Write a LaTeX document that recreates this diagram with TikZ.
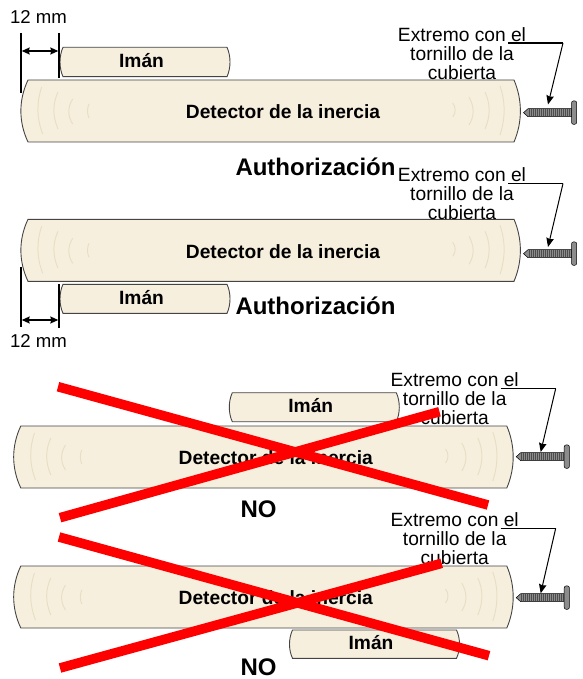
\documentclass[tikz,border=0pt]{standalone}
\usepackage{fontspec}
\setmainfont{Liberation Sans}
\usetikzlibrary{arrows.meta}
\definecolor{wood}{HTML}{F7EFDE}
\definecolor{grain}{HTML}{E8DFC3}
\definecolor{edge}{HTML}{444444}
\definecolor{screwc}{HTML}{8C8C8C}
\tikzset{x=1pt,y=-1pt,
 woodbody/.style={fill=wood,draw=edge,line width=0.9pt},
 grainline/.style={draw=grain,line width=1pt},
 lbl/.style={inner sep=0pt,font=\fontsize{19.2}{19}\selectfont\bfseries},
 callout/.style={inner sep=0pt,align=center,font=\fontsize{19.2}{19}\selectfont},
 dimtxt/.style={inner sep=0pt,font=\fontsize{18.6}{19}\selectfont},
 big/.style={inner sep=0pt,font=\fontsize{24}{24}\selectfont\bfseries},
 dimline/.style={draw=black,line width=1.5pt},
 dimarrow/.style={draw=black,line width=1.3pt,{Stealth[length=8pt,width=7pt,inset=1pt]}-{Stealth[length=8pt,width=7pt,inset=1pt]}},
 calloutrule/.style={draw=black,line width=1.3pt},
 calloutline/.style={draw=black,line width=1pt,-{Stealth[length=9pt,width=7.5pt,inset=1pt]}},
 cross/.style={draw=red,line width=9.6pt}}
% #1 name; #2,#3 shift of the bar; #4 dx of screw and callout; #5 dy of screw; #6 dy of callout; #7 y of arrow tip
\newcommand{\detectorbar}[7]{%
 \begin{scope}[shift={(#2,#3)}]
  \draw[woodbody] (28,80) -- (514,80) .. controls (522.5,100) and (522.5,122) .. (514,142) -- (28,142) .. controls (18.5,122) and (18.5,100) .. (28,80) -- cycle;
  \draw[grainline] (41.7,87) .. controls (36.5,102) and (36.5,118) .. (42.7,134);
  \draw[grainline] (58,92) .. controls (52.5,104) and (52.5,116) .. (58,129);
  \draw[grainline] (72.7,99) .. controls (67.5,107) and (67.5,116) .. (72.7,124);
  \draw[grainline] (89,104) .. controls (87,108) and (87,114) .. (89,118);
  \draw[grainline] (500,86) .. controls (505.5,102) and (505.5,118) .. (500,135);
  \draw[grainline] (485,92) .. controls (490.5,104) and (490.5,116) .. (485,129);
  \draw[grainline] (469,97) .. controls (474.5,107) and (474.5,116) .. (469,125);
  \draw[grainline] (452.7,103) .. controls (456,107) and (456,113) .. (452.7,117);
  \node[lbl] (#1text) at (283,112) {Detector de la inercia};
 \end{scope}
 \begin{scope}[shift={(#4,#5)}]
  \fill[screwc,draw=black,line width=0.5pt] (523.5,112.7) -- (528,108.7) -- (572,108.7) -- (572,116.7) -- (528,116.7) -- cycle;
  \foreach \sx in {529,531,...,571} \draw[black!70,line width=0.6pt] (\sx,109.2) -- (\sx,116.2);
  \draw[fill=screwc,draw=black,line width=0.5pt,rounded corners=2pt] (571.5,100.9) rectangle (576.7,124.3);
 \end{scope}
 \begin{scope}[shift={(#4,#6)}]
  \node[callout] (#1call) at (462,53.5) {Extremo con el\\tornillo de la\\cubierta};
  \coordinate (#1bend) at (563,43);
  \coordinate (#1start) at (508,43);
 \end{scope}
 \coordinate (#1tip) at (548+#4,#7);
 \draw[calloutrule] (#1start) -- (#1bend);
 \draw[calloutline] (#1bend) -- (#1tip);}
% #1 name; #2 left bulge x; #3 top y; #4 bottom y
\newcommand{\iman}[4]{%
 \draw[woodbody] (#2+3,#3) -- (#2+167,#3) .. controls (#2+171,#3*0.7+#4*0.3) and (#2+171,#3*0.3+#4*0.7) .. (#2+167,#4) -- (#2+3,#4) .. controls (#2-1,#3*0.3+#4*0.7) and (#2-1,#3*0.7+#4*0.3) .. (#2+3,#3) -- cycle;
 \node[lbl] (#1) at (#2+81.5,#3*0.5+#4*0.5-1.2) {Imán};}
\begin{document}
\begin{tikzpicture}
\useasboundingbox (0,0) rectangle (582,679);
\fill[white] (0,0) rectangle (582,679);

\detectorbar{da}{0}{0}{0}{0}{0}{104.5}
\iman{ia}{60}{47.3}{76.7}
\node[dimtxt] (ma) at (38.5,17.5) {12 mm};
\coordinate (a1t) at (21,33); \coordinate (a1b) at (21,93);
\coordinate (a2t) at (59,33); \coordinate (a2b) at (59,77.7);
\coordinate (a1m) at (21.7,51); \coordinate (a2m) at (58.3,51);
\draw[dimline] (a1t) -- (a1b);
\draw[dimline] (a2t) -- (a2b);
\draw[dimarrow] (a1m) -- (a2m);
\node[big] (au1) at (315.5,167) {Authorización};

\detectorbar{db}{0}{139.3}{0}{141}{140.5}{247}
\iman{ib}{60}{284.3}{313.3}
\node[dimtxt] (mb) at (38.5,341.5) {12 mm};
\coordinate (b1t) at (21,266.7); \coordinate (b1b) at (21,326.7);
\coordinate (b2t) at (59,284); \coordinate (b2b) at (59,328);
\coordinate (b1m) at (21.7,320); \coordinate (b2m) at (58.3,320);
\draw[dimline] (b1t) -- (b1b);
\draw[dimline] (b2t) -- (b2b);
\draw[dimarrow] (b1m) -- (b2m);
\node[big] (au2) at (315.5,306) {Authorización};

\detectorbar{dc}{-7.2}{346}{-7.3}{344}{345.5}{452}
\iman{ic}{229.3}{392.7}{421.7}
\node[big] (no1) at (258.5,509) {NO};
\coordinate (c1) at (58,386.7); \coordinate (c2) at (488,505);
\coordinate (c3) at (60,517.7); \coordinate (c4) at (439.5,411.7);
\draw[cross] (c1) -- (c2);
\draw[cross] (c3) -- (c4);

\detectorbar{dd}{-7.2}{486}{-7.3}{485}{485.3}{593.3}
\iman{id}{289.5}{630}{658.3}
\node[big] (no2) at (258.5,667) {NO};
\coordinate (e1) at (59,537); \coordinate (e2) at (489,655.7);
\coordinate (e3) at (60,668); \coordinate (e4) at (441.7,563.3);
\draw[cross] (e1) -- (e2);
\draw[cross] (e3) -- (e4);
\end{tikzpicture}
\end{document}
